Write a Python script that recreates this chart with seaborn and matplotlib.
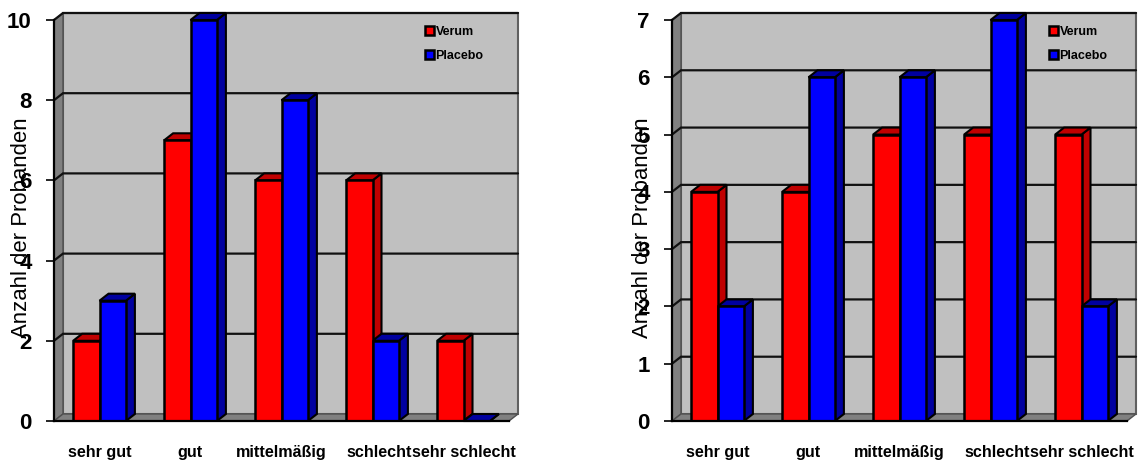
import pandas as pd
import matplotlib
matplotlib.use('Agg')
import matplotlib.pyplot as plt
import seaborn as sns
from matplotlib.patches import Polygon
from matplotlib.transforms import ScaledTranslation

categories = ['sehr gut', 'gut', 'mittelmäßig', 'schlecht', 'sehr schlecht']
series_names = ['Verum', 'Placebo']
left_verum = [2, 7, 6, 6, 2]
left_placebo = [3, 10, 8, 2, 0]
right_verum = [4, 4, 5, 5, 5]
right_placebo = [2, 6, 6, 7, 2]
left_ticks = [0, 2, 4, 6, 8, 10]
right_ticks = [0, 1, 2, 3, 4, 5, 6, 7]

W, H = 1138, 461
FRONT_W, FRONT_H = 455, 401
DEPTH_X, DEPTH_Y = 9, 7

sns.set_style('white')
plt.rcParams['font.family'] = ['Liberation Sans', 'DejaVu Sans']
plt.rcParams['text.color'] = 'black'
plt.rcParams['xtick.labelcolor'] = 'black'
plt.rcParams['ytick.labelcolor'] = 'black'
fig = plt.figure(figsize=(W / 100, H / 100), dpi=100)


def face(ax, pts, color, z, edge='black', lw=1.5):
    ax.add_patch(Polygon(pts, closed=True, facecolor=color, edgecolor=edge,
                         linewidth=lw, zorder=z, clip_on=False))


def panel(left_px, verum, placebo, ticks, label_x, legend_x):
    ax = fig.add_axes([left_px / W, (H - 421) / H, FRONT_W / W, FRONT_H / H])
    df = pd.DataFrame({
        'cat': categories * 2,
        'n': verum + placebo,
        'group': [series_names[0]] * 5 + [series_names[1]] * 5,
    })
    sns.barplot(data=df, x='cat', y='n', hue='group', order=categories,
                palette=['#ff0000', '#0000ff'], width=0.58, saturation=1,
                edgecolor='black', linewidth=1.8, zorder=5, ax=ax)
    x0, x1 = -0.5, 4.5
    top = ticks[-1]
    ax.set_xlim(x0, x1)
    ax.set_ylim(0, top)
    dx = DEPTH_X / FRONT_W * (x1 - x0)
    dy = DEPTH_Y / FRONT_H * top

    # walls and floor
    ax.patch.set_visible(False)
    face(ax, [(x0 + dx, dy), (x1 + dx, dy), (x1 + dx, top + dy), (x0 + dx, top + dy)],
         '#c0c0c0', 0.5, edge='#606060', lw=1.5)
    face(ax, [(x0, 0), (x0 + dx, dy), (x0 + dx, top + dy), (x0, top)],
         '#808080', 0.6, edge='#505050', lw=1)
    face(ax, [(x0, 0), (x1, 0), (x1 + dx, dy), (x0 + dx, dy)],
         '#808080', 0.7, edge='#505050', lw=1)

    # gridlines run along the back wall and down the side wall
    for t in ticks[1:]:
        ax.plot([x0, x0 + dx, x1 + dx], [t, t + dy, t + dy], color='#111111',
                lw=1.6, zorder=1, clip_on=False, solid_joinstyle='miter')

    # side and top faces of the bars, taken from the bars seaborn drew
    for k, cont in enumerate(ax.containers):
        dark = ['#c00000', '#0000a0'][k]
        for bar in cont:
            a, w, h = bar.get_x(), bar.get_width(), bar.get_height()
            z = 2 + k
            face(ax, [(a + w, 0), (a + w + dx, dy), (a + w + dx, h + dy), (a + w, h)], dark, z)
            face(ax, [(a, h), (a + w, h), (a + w + dx, h + dy), (a + dx, h + dy)], dark, z)

    for s in ['top', 'right']:
        ax.spines[s].set_visible(False)
    for s in ['left', 'bottom']:
        ax.spines[s].set_linewidth(1.6)
        ax.spines[s].set_color('black')
        ax.spines[s].set_zorder(6)
    ax.set_yticks(ticks)
    ax.set_yticklabels(ticks, fontsize=16, fontweight='bold')
    ax.set_xticks(range(5))
    ax.set_xticklabels(categories, fontsize=11.6, fontweight='bold')
    ax.tick_params(axis='y', length=6, width=1.2, color='black', left=True, pad=10)
    ax.tick_params(axis='x', length=0, pad=17)
    # the original nudges "schlecht" to the right, up against its neighbour
    lab = ax.get_xticklabels()[3]
    lab.set_transform(lab.get_transform() + ScaledTranslation(7 / 100, 0, fig.dpi_scale_trans))
    ax.set_xlabel('')
    ax.set_ylabel('')
    fig.text(label_x / W, 1 - 228 / H, 'Anzahl der Probanden', rotation=90,
             fontsize=15.9, ha='center', va='center', color='black', zorder=10)

    handles = [c[0] for c in ax.containers]
    leg = ax.legend(handles, series_names, loc='upper left',
                    bbox_to_anchor=((legend_x - left_px) / FRONT_W, 0.985), frameon=False,
                    prop={'size': 9, 'weight': 'bold'}, handlelength=0.7, handleheight=0.7,
                    handletextpad=0.15, labelspacing=0.95, borderpad=0, borderaxespad=0)
    leg.set_zorder(8)
    for p in leg.get_patches():
        p.set_linewidth(1.8)
    return ax


panel(54, left_verum, left_placebo, left_ticks, 22, 425)
panel(672, right_verum, right_placebo, right_ticks, 643, 1049)

fig.savefig('out.png', dpi=100)
